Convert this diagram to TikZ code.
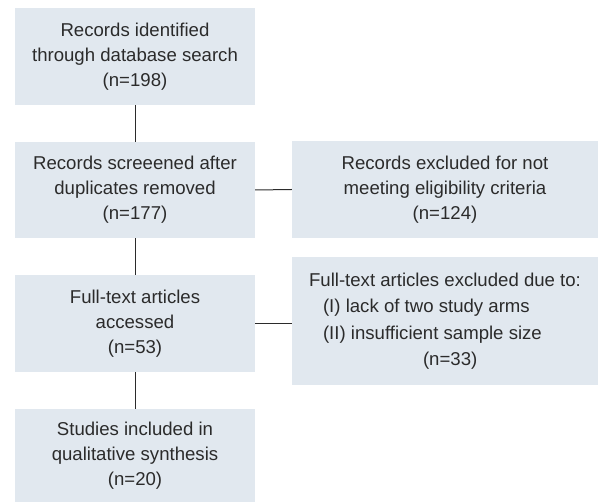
\documentclass[tikz,border=0pt]{standalone}
\usepackage{fontspec}
\setmainfont{Liberation Sans}
\definecolor{boxfill}{HTML}{E1E8EF}
\definecolor{ink}{HTML}{2B2B2B}
\begin{document}
\begin{tikzpicture}[x=1pt,y=1pt,
  box/.style={fill=boxfill, draw=none, inner sep=0pt, align=center, text=ink,
    font=\fontsize{18.6}{25}\selectfont},
  link/.style={draw=ink, line width=1pt}]
\useasboundingbox (0,0) rectangle (598,-502);
\node[box, minimum width=240pt, minimum height=97pt] (b1) at (135,-56.5)
  {Records identified\\through database search\\(n=198)};
\node[box, minimum width=240pt, minimum height=96pt] (b2) at (135,-190)
  {Records screeened after\\duplicates removed\\(n=177)};
\node[box, minimum width=240pt, minimum height=97pt] (b3) at (135,-323.5)
  {Full-text articles\\accessed\\(n=53)};
\node[box, minimum width=240pt, minimum height=93pt] (b4) at (135,-455.5)
  {Studies included in\\qualitative synthesis\\(n=20)};
\node[box, minimum width=306pt, minimum height=97pt] (r1) at (445,-189.5)
  {Records excluded for not\\meeting eligibility criteria\\(n=124)};
\node[box, minimum width=306pt, minimum height=128pt, align=left,
  font=\fontsize{18.6}{26.5}\selectfont] (r2) at (445,-321)
  {Full-text articles excluded due to:\\
   \hspace*{14pt}(I) lack of two study arms\\
   \hspace*{14pt}(II) insufficient sample size\\
   \hspace*{114pt}(n=33)};
\draw[link] (b1.south) -- (b2.north);
\draw[link] (b2.south) -- (b3.north);
\draw[link] (b3.south) -- (b4.north);
\draw[link] (b2.east) -- (r1.west);
\draw[link] (b3.east) -- (r2.west |- b3.east);
\end{tikzpicture}
\end{document}
